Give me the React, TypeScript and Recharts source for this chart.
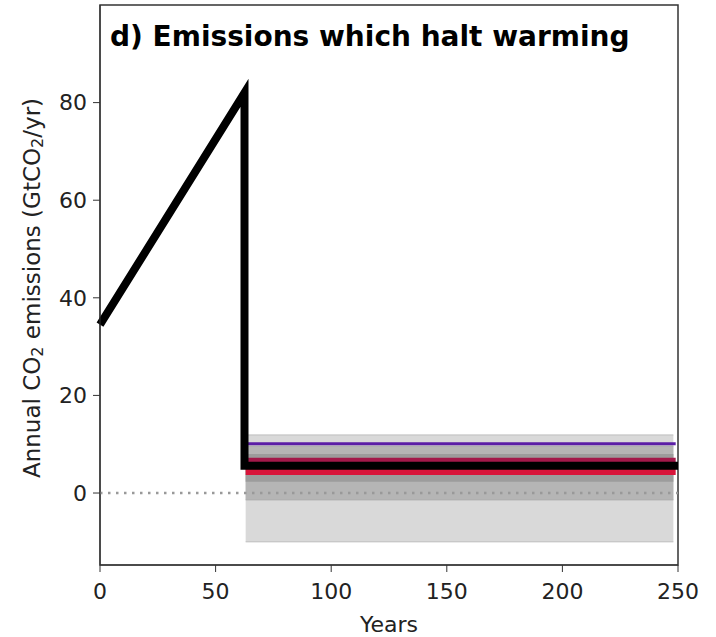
import React from 'react';
import { ComposedChart, Line, Area, XAxis, YAxis, ReferenceArea, ReferenceLine } from 'recharts';

// emission pathway (black)
const pathYears = [0, 62.5, 62.5, 250];
const pathValues = [34.5, 82, 5.6, 5.6];

// model lines after the cut
const flatYears = [63, 249];
const purpleValues = [10.1, 10.1];
const darkRedValues = [6.6, 6.6];
const redValues = [4.3, 4.3];

// shaded ranges
const bandYears = [63, 248];
const outerLow = [-10, -10];
const outerHigh = [11.9, 11.9];
const midLow = [-1.4, -1.4];
const midHigh = [9.6, 9.6];
const innerLow = [2.3, 2.3];
const innerHigh = [8, 8];

const xTicks = [0, 50, 100, 150, 200, 250];
const yTicks = [0, 20, 40, 60, 80];

const toSeries = (xs: number[], ys: number[]) => xs.map((x, i) => ({ year: x, value: ys[i] }));
const toBand = (xs: number[], lo: number[], hi: number[]) =>
  xs.map((x, i) => ({ year: x, range: [lo[i], hi[i]] }));

const FONT = '"DejaVu Sans", sans-serif';

const YLabel = (props: any) => {
  const cx = 32;
  const cy = 288;
  return (
    <text
      x={cx}
      y={cy}
      transform={`rotate(-90 ${cx} ${cy})`}
      textAnchor="middle"
      dominantBaseline="central"
      fontFamily={FONT}
      fontSize={23}
      fill="#222"
    >
      Annual CO<tspan fontSize={16} dy={5}>2</tspan>
      <tspan dy={-5}> emissions (GtCO</tspan>
      <tspan fontSize={16} dy={5}>2</tspan>
      <tspan dy={-5}>/yr)</tspan>
    </text>
  );
};

export default function App() {
  return (
    <div style={{ position: 'absolute', left: 0, top: 0, width: 716, height: 637, background: '#fff' }}>
      <ComposedChart width={716} height={637} margin={{ top: 5, right: 38, bottom: 32, left: 40 }}>
        <XAxis
          type="number"
          dataKey="year"
          domain={[0, 250]}
          ticks={xTicks}
          allowDuplicatedCategory={false}
          tickSize={7}
          tickMargin={11}
          height={40}
          stroke="#333"
          tick={{ fill: '#222', fontFamily: FONT, fontSize: 22 }}
          label={{ value: 'Years', position: 'insideBottom', offset: -27, fill: '#222', fontFamily: FONT, fontSize: 22 }}
        />
        <YAxis
          type="number"
          domain={[-14.75, 100]}
          ticks={yTicks}
          allowDataOverflow
          width={60}
          tickSize={7}
          tickMargin={6}
          stroke="#333"
          tick={{ fill: '#222', fontFamily: FONT, fontSize: 22 }}
          label={{ content: <YLabel /> }}
        />
        <Area
          data={toBand(bandYears, outerLow, outerHigh)}
          dataKey="range"
          type="linear"
          fill="#d9d9d9"
          fillOpacity={1}
          stroke="#bdbdbd"
          strokeWidth={1}
          isAnimationActive={false}
        />
        <Area
          data={toBand(bandYears, midLow, midHigh)}
          dataKey="range"
          type="linear"
          fill="#b5b5b5"
          fillOpacity={1}
          stroke="#a8a8a8"
          strokeWidth={1}
          isAnimationActive={false}
        />
        <Area
          data={toBand(bandYears, innerLow, innerHigh)}
          dataKey="range"
          type="linear"
          fill="#9c9c9c"
          fillOpacity={1}
          stroke="none"
          isAnimationActive={false}
        />
        <ReferenceLine y={0} stroke="#999" strokeWidth={2.5} strokeDasharray="2.5 5.5" />
        <Line
          data={toSeries(flatYears, purpleValues)}
          dataKey="value"
          type="linear"
          stroke="#5b1ea6"
          strokeWidth={3}
          dot={false}
          isAnimationActive={false}
        />
        <Line
          data={toSeries(flatYears, darkRedValues)}
          dataKey="value"
          type="linear"
          stroke="#a3194a"
          strokeWidth={6}
          dot={false}
          isAnimationActive={false}
        />
        <Line
          data={toSeries(flatYears, redValues)}
          dataKey="value"
          type="linear"
          stroke="#d8143a"
          strokeWidth={6}
          dot={false}
          isAnimationActive={false}
        />
        <Line
          data={toSeries(pathYears, pathValues)}
          dataKey="value"
          type="linear"
          stroke="#000"
          strokeWidth={8}
          strokeLinejoin="miter"
          dot={false}
          isAnimationActive={false}
        />
        <ReferenceArea x1={0} x2={250} y1={-14.75} y2={100} fill="none" stroke="#333" strokeWidth={1.5} ifOverflow="visible" />
      </ComposedChart>
      <div
        style={{
          position: 'absolute',
          left: 110,
          top: 20,
          fontFamily: FONT,
          fontWeight: 'bold',
          fontSize: 28,
          color: '#000',
          whiteSpace: 'nowrap',
        }}
      >
        d) Emissions which halt warming
      </div>
    </div>
  );
}
